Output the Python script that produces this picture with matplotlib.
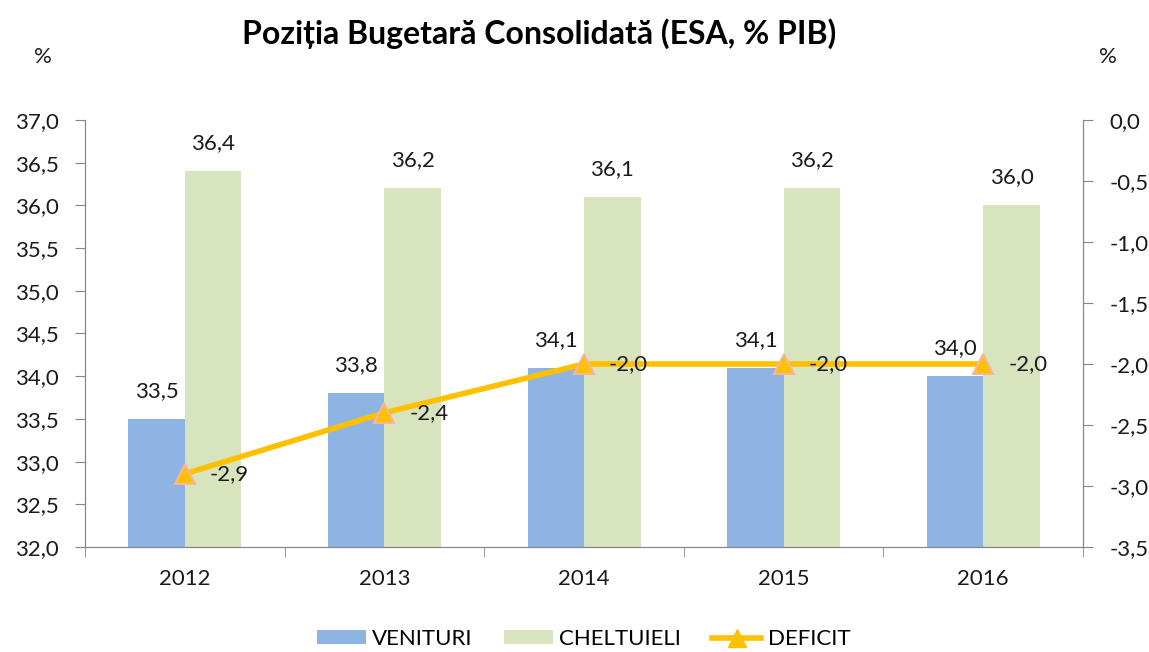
import matplotlib
matplotlib.use("Agg")
import matplotlib.pyplot as plt
from matplotlib.ticker import FuncFormatter, FixedLocator
from matplotlib.patches import Patch
from matplotlib.lines import Line2D
import numpy as np

plt.rcParams["font.family"] = ["Lato", "DejaVu Sans"]

years = ["2012", "2013", "2014", "2015", "2016"]
venituri = [33.5, 33.8, 34.1, 34.1, 34.0]
cheltuieli = [36.4, 36.2, 36.1, 36.2, 36.0]
deficit = [-2.9, -2.4, -2.0, -2.0, -2.0]

BLUE = "#8EB4E3"
GREEN = "#D7E4BD"
GOLD = "#FFC000"
SPINE = "#868686"
TXT = "#1a1a1a"
FS = 16


def comma(v, _=None):
    return f"{v:.1f}".replace(".", ",")


fig = plt.figure(figsize=(11.49, 6.52), dpi=100)
ax = fig.add_axes([0.074, 0.161, 0.8686, 0.655])
ax2 = ax.twinx()

x = np.arange(len(years))
w = 0.283
ax.bar(x - w / 2, venituri, w, color=BLUE, zorder=2)
ax.bar(x + w / 2, cheltuieli, w, color=GREEN, zorder=2)

for xi, v in zip(x, venituri):
    ax.annotate(comma(v), (xi - w / 2, v), xytext=(0, 13), textcoords="offset points",
                ha="center", va="bottom", fontsize=FS, color=TXT)
for xi, v in zip(x, cheltuieli):
    ax.annotate(comma(v), (xi + w / 2, v), xytext=(0, 13), textcoords="offset points",
                ha="center", va="bottom", fontsize=FS, color=TXT)

ax2.plot(x, deficit, color=GOLD, lw=4, marker="^", markersize=15,
         markerfacecolor=GOLD, markeredgecolor="#F4B6A0", markeredgewidth=1.5, zorder=5)
for xi, v in zip(x, deficit):
    ax2.annotate(comma(v), (xi, v), xytext=(18, 0), textcoords="offset points",
                 ha="left", va="center", fontsize=FS, color=TXT, zorder=7)

ax.set_xlim(-0.5, len(years) - 0.5)
ax.set_ylim(32.0, 37.0)
ax.set_yticks(np.arange(32.0, 37.01, 0.5))
ax.yaxis.set_major_formatter(FuncFormatter(comma))
ax2.set_ylim(-3.5, 0.0)
ax2.set_yticks(np.arange(-3.5, 0.01, 0.5))
ax2.yaxis.set_major_formatter(FuncFormatter(comma))

ax.set_xticks(x)
ax.set_xticklabels(years)
ax.xaxis.set_minor_locator(FixedLocator(np.arange(-0.5, len(years), 1.0)))
ax.tick_params(axis="x", which="major", length=0, pad=16, labelsize=FS, colors=TXT)
ax.tick_params(axis="x", which="minor", length=7, color=SPINE)
ax.tick_params(axis="y", length=7, color=SPINE, labelsize=FS, labelcolor=TXT, pad=12)
ax2.tick_params(axis="y", length=7, color=SPINE, labelsize=FS, labelcolor=TXT, pad=12)

for a in (ax, ax2):
    a.spines["top"].set_visible(False)
    for s in ("left", "right", "bottom"):
        a.spines[s].set_color(SPINE)

fig.text(0.037, 0.912, "%", fontsize=FS, color=TXT, ha="center", va="center")
fig.text(0.964, 0.912, "%", fontsize=FS, color=TXT, ha="center", va="center")
fig.text(0.469, 0.948, "Poziția Bugetară Consolidată (ESA, % PIB)", fontsize=23,
         fontweight="bold", color="black", ha="center", va="center")

handles = [
    Patch(facecolor=BLUE),
    Patch(facecolor=GREEN),
    Line2D([0], [0], color=GOLD, lw=4, marker="^", markersize=13,
           markerfacecolor=GOLD, markeredgecolor=GOLD),
]
fig.legend(handles, ["VENITURI", "CHELTUIELI", "DEFICIT"], loc="center",
           bbox_to_anchor=(0.508, 0.02), ncol=3, frameon=False, fontsize=FS,
           handlelength=2.2, handleheight=0.6, columnspacing=1.4, handletextpad=0.3)

fig.savefig("out.png", dpi=100)
